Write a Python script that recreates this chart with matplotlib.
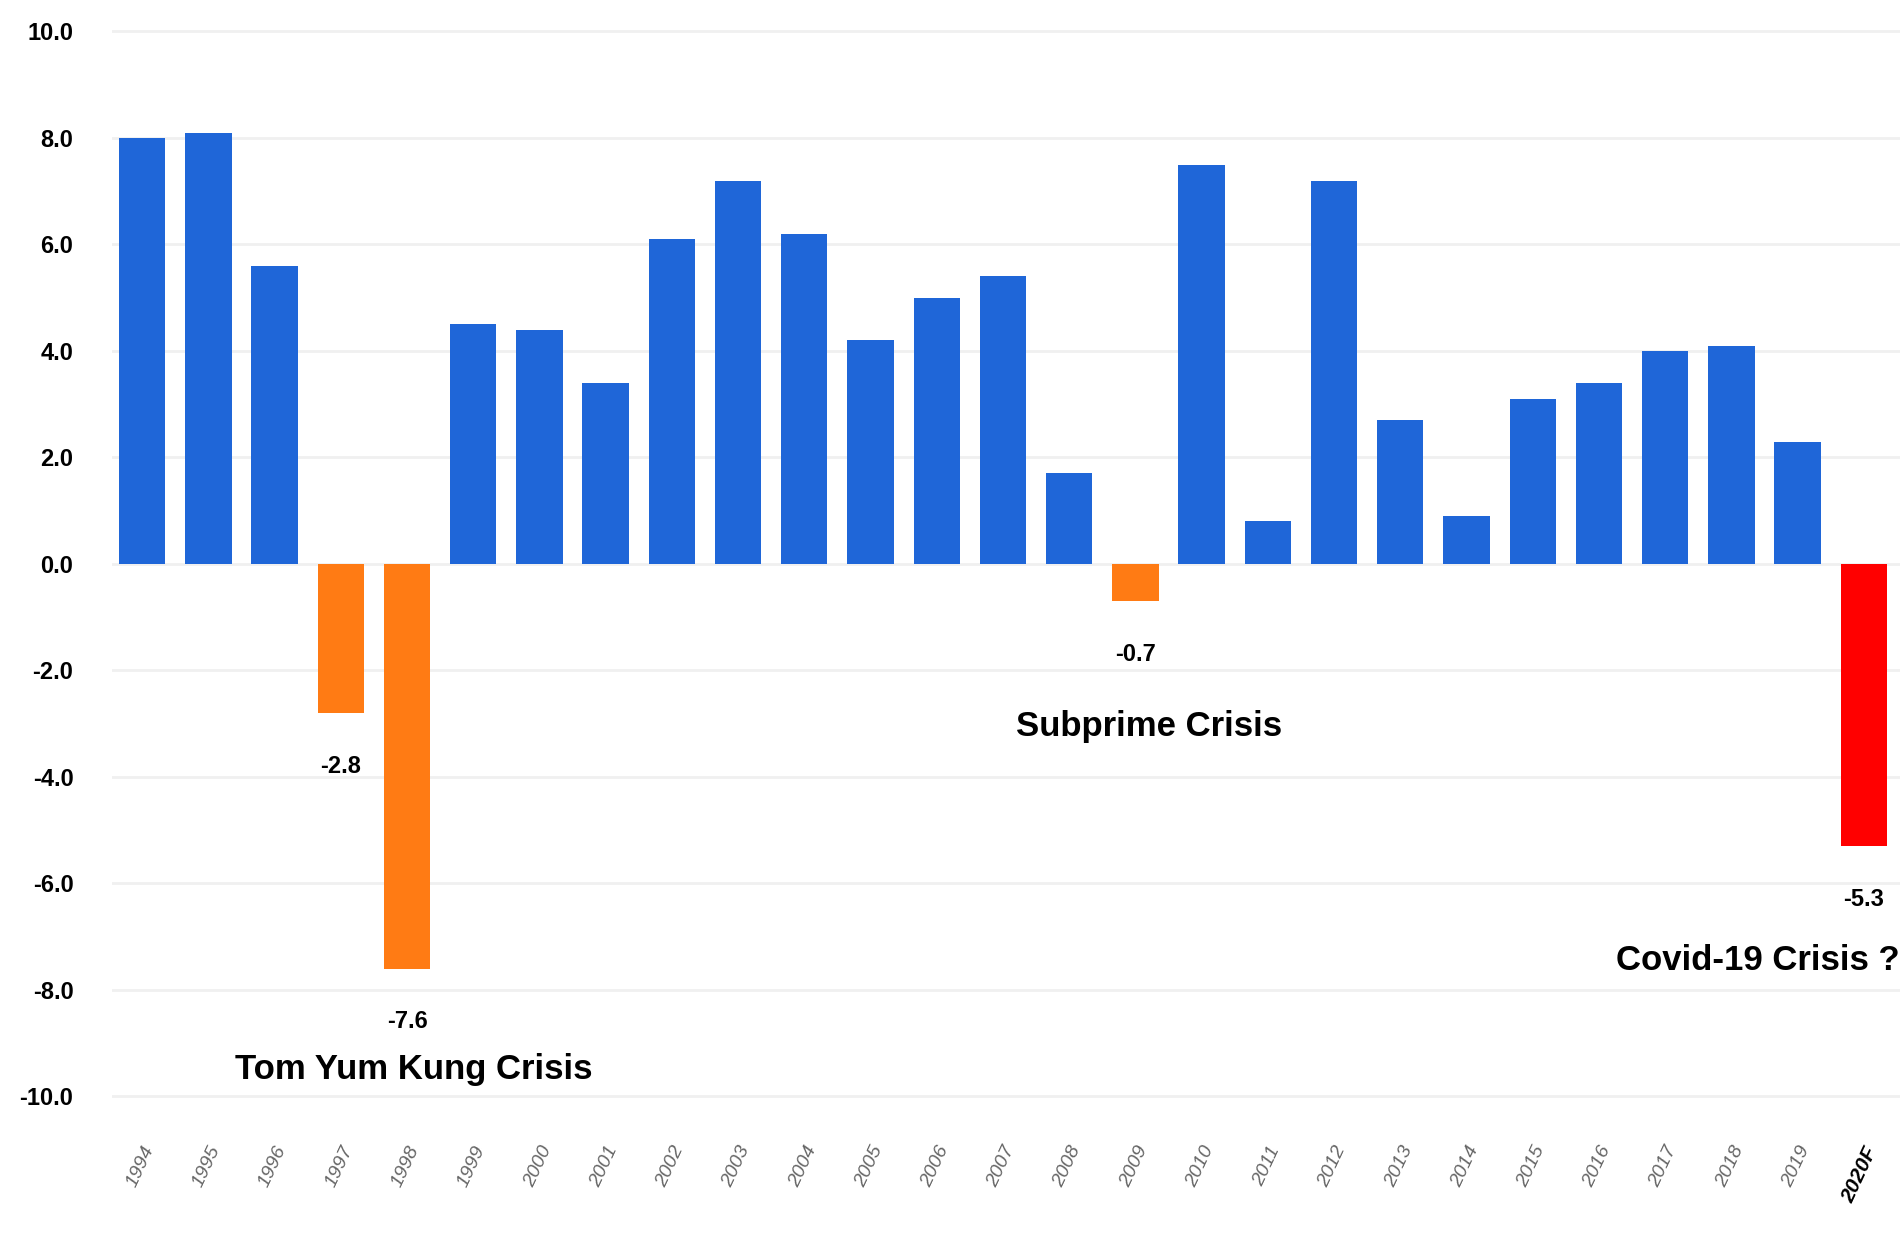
import numpy as np
import matplotlib
matplotlib.use('Agg')
import matplotlib.pyplot as plt

plt.rcParams['font.family'] = ['Liberation Sans', 'DejaVu Sans']

# Data #########################################################################
years = ['1994', '1995', '1996', '1997', '1998', '1999', '2000', '2001', '2002',
         '2003', '2004', '2005', '2006', '2007', '2008', '2009', '2010', '2011',
         '2012', '2013', '2014', '2015', '2016', '2017', '2018', '2019', '2020F']
growth = [8.0, 8.1, 5.6, -2.8, -7.6, 4.5, 4.4, 3.4, 6.1, 7.2, 6.2, 4.2, 5.0, 5.4,
          1.7, -0.7, 7.5, 0.8, 7.2, 2.7, 0.9, 3.1, 3.4, 4.0, 4.1, 2.3, -5.3]
crisis_labels = ['Tom Yum Kung Crisis', 'Subprime Crisis', 'Covid-19 Crisis ?']
crisis_x = [4.1, 15.2, 24.4]      # position of the caption (bar index)
crisis_y = [-9.5, -3.05, -7.45]
###############################################################################

blue = '#1f66d8'
orange = '#ff7b14'
red = '#ff0000'

colors = []
for y, v in zip(years, growth):
    if y.endswith('F'):
        colors.append(red)
    elif v < 0:
        colors.append(orange)
    else:
        colors.append(blue)

fig = plt.figure(figsize=(19.04, 12.45), dpi=100)
ax = fig.add_axes([0.059, 0.115, 0.939, 0.864])

x = np.arange(len(years))
ax.bar(x, growth, width=0.7, color=colors, zorder=3)

ax.set_xlim(-0.45, len(years) - 0.45)
ax.set_ylim(-10.1, 10.1)
ax.set_yticks(np.arange(-10, 11, 2))
ax.set_yticklabels(['%.1f' % t for t in np.arange(-10, 11, 2)],
                   fontsize=17, fontweight='bold')
ax.yaxis.grid(True, color='#f0f0f0', linewidth=2, zorder=0)
ax.tick_params(axis='both', length=0)
ax.tick_params(axis='y', pad=28)
for s in ax.spines.values():
    s.set_visible(False)

ax.set_xticks(x)
ax.set_xticklabels(years, rotation=65, ha='right', rotation_mode='anchor',
                   fontsize=14, style='italic', color='#666666')
ax.tick_params(axis='x', pad=30)
last = ax.get_xticklabels()[-1]
last.set_fontweight('bold')
last.set_color('black')
last.set_fontsize(15)

# value labels under the negative bars
for i, v in enumerate(growth):
    if v < 0:
        ax.text(i, v - 1.0, '%.1f' % v, ha='center', va='center',
                fontsize=17, fontweight='bold')

for lab, cx, cy in zip(crisis_labels, crisis_x, crisis_y):
    ax.text(cx, cy, lab, ha='center', va='center', fontsize=25, fontweight='bold')

fig.savefig('out.png', dpi=100, facecolor='white')
